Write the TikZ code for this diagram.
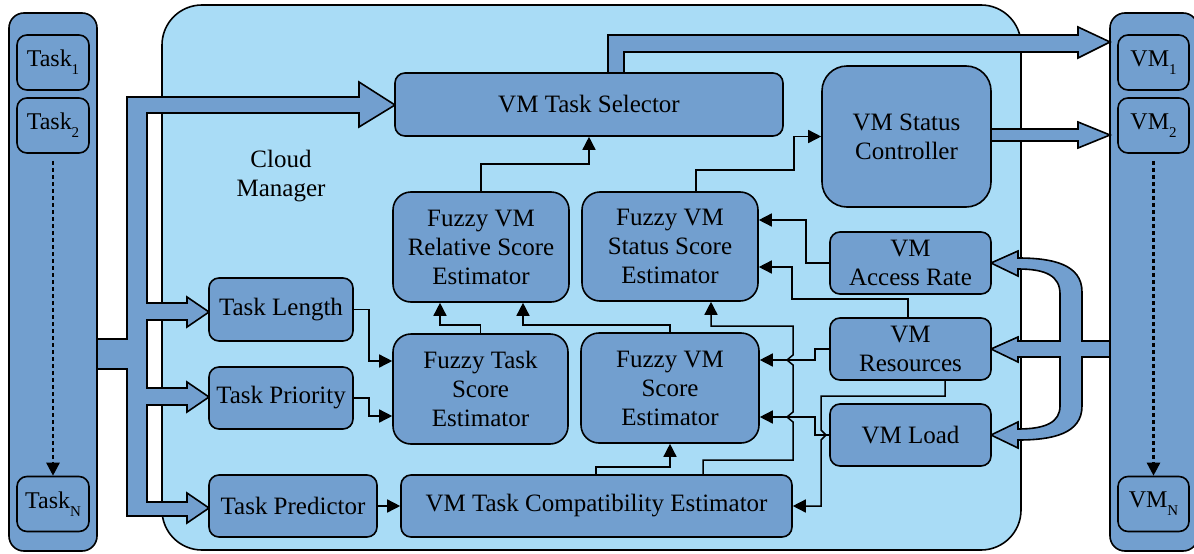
\documentclass[tikz,border=0pt]{standalone}
\usepackage{fontspec}
\setmainfont{Liberation Serif}
\usetikzlibrary{arrows.meta}
\definecolor{lightbg}{HTML}{A9DCF6}
\definecolor{boxblue}{HTML}{729FCF}
\newcommand\mysub[1]{\raisebox{-8pt}{\fontsize{15}{15}\selectfont #1}}
\tikzset{
  box/.style={draw=black, line width=1.6pt, fill=boxblue, rounded corners=10pt, inner sep=0pt, align=center, font=\fontsize{25}{29}\selectfont},
  fuzzybox/.style={box, rounded corners=18pt},
  itembox/.style={box, rounded corners=10pt, minimum width=72pt, minimum height=55pt, font=\fontsize{24}{28}\selectfont},
  barbox/.style={draw=black, line width=1.6pt, fill=boxblue, rounded corners=15pt, inner sep=0pt},
  conn/.style={draw=black, line width=1.5pt, -{Triangle[length=13pt,width=13pt]}},
  bigarrow/.style={draw=black, line width=1.6pt, fill=boxblue, line join=miter},
  dotarrow/.style={draw=black, line width=2.5pt, dash pattern=on 4pt off 3pt, -{Triangle[length=13pt,width=13pt]}},
}
\begin{document}
\begin{tikzpicture}[x=1pt,y=-1pt]
\useasboundingbox (0,0) rectangle (1194,554);
% cloud manager
\node[draw=black, line width=1.6pt, fill=lightbg, rounded corners=40pt, minimum width=859pt, minimum height=545pt, inner sep=0pt] (cloud) at (591.5,277.5) {};
\node[align=center, font=\fontsize{25}{29}\selectfont, inner sep=0pt] (cmlabel) at (281,176) {Cloud\\Manager};
% side bars
\node[barbox, minimum width=88pt, minimum height=538pt] (taskbar) at (53,282) {};
\node[barbox, minimum width=88pt, minimum height=538pt] (vmbar) at (1154,282) {};
\node[itembox] (task1) at (53,62.5) {Task\mysub{1}};
\node[itembox] (task2) at (53,125.5) {Task\mysub{2}};
\node[itembox] (taskN) at (53,504) {Task\mysub{N}};
\node[itembox, minimum width=71pt] (vm1) at (1153.5,62.5) {VM\mysub{1}};
\node[itembox, minimum width=71pt] (vm2) at (1153.5,125.5) {VM\mysub{2}};
\node[itembox, minimum width=71pt] (vmN) at (1153.5,504) {VM\mysub{N}};
\draw[dotarrow, shorten <=7pt] (task2.south) -- (taskN.north);
\draw[dotarrow, shorten <=7pt] (vm2.south) -- (vmN.north);
% big arrow from tasks
\draw[bigarrow] (97,339) -- (127,339) -- (127,97) -- (359,97) -- (359,82) -- (395,105) -- (359,127) -- (359,113)
  -- (147,113) -- (147,303) -- (187,303) -- (187,297) -- (209,312) -- (187,327) -- (187,320)
  -- (147,320) -- (147,388) -- (187,388) -- (187,382) -- (209,397) -- (187,412) -- (187,405)
  -- (147,405) -- (147,502) -- (187,502) -- (187,493) -- (209,508) -- (187,523) -- (187,516)
  -- (127,516) -- (127,369) -- (97,369) -- cycle;
% big arrows to VMs
\draw[bigarrow] (608,73) -- (608,35) -- (1078,35) -- (1078,27) -- (1110,42) -- (1078,58) -- (1078,52) -- (624,52) -- (624,73) -- cycle;
\draw[bigarrow] (991,129) -- (1078,129) -- (1078,122) -- (1110,135) -- (1078,148) -- (1078,141) -- (991,141) -- cycle;
% big arrow from VMs
\draw[bigarrow] (1110,341) -- (1082,341) -- (1082,292) .. controls (1082,264) and (1052,258) .. (1018,258)
  -- (1018,251) -- (991,263) -- (1018,276) -- (1018,269) .. controls (1046,269) and (1060,276) .. (1060,294)
  -- (1060,341) -- (1018,341) -- (1018,337) -- (991,349) -- (1018,362) -- (1018,357) -- (1060,357)
  -- (1060,406) .. controls (1060,422) and (1046,429) .. (1018,429) -- (1018,422) -- (991,435) -- (1018,448) -- (1018,440)
  .. controls (1052,440) and (1082,434) .. (1082,406) -- (1082,357) -- (1110,357) -- cycle;
% boxes
\node[box, minimum width=388pt, minimum height=63pt] (sel) at (589,104.5) {VM Task Selector};
\node[box, rounded corners=25pt, minimum width=169pt, minimum height=141pt] (ctrl) at (906.5,136.5) {VM Status\\Controller};
\node[fuzzybox, minimum width=176pt, minimum height=110pt] (rel) at (481,247) {Fuzzy VM\\Relative Score\\Estimator};
\node[fuzzybox, minimum width=176pt, minimum height=109pt] (stat) at (670,246.5) {Fuzzy VM\\Status Score\\Estimator};
\node[fuzzybox, minimum width=175pt, minimum height=110pt] (fts) at (480.5,389) {Fuzzy Task\\Score\\Estimator};
\node[fuzzybox, minimum width=178pt, minimum height=110pt] (fvs) at (670,388) {Fuzzy VM\\Score\\Estimator};
\node[box, minimum width=391pt, minimum height=62pt] (comp) at (596.5,506) {VM Task Compatibility Estimator};
\node[box, minimum width=144pt, minimum height=63pt] (tlen) at (281,309.5) {Task Length};
\node[box, minimum width=144pt, minimum height=62pt] (tpri) at (281,398) {Task Priority};
\node[box, minimum width=168pt, minimum height=62pt] (tpred) at (293,506) {Task Predictor};
\node[box, minimum width=161pt, minimum height=62pt] (acc) at (910.5,263) {VM\\Access Rate};
\node[box, minimum width=161pt, minimum height=62pt] (res) at (910.5,349) {VM\\Resources};
\node[box, minimum width=161pt, minimum height=62pt] (load) at (910.5,435) {VM Load};
% connectors
\draw[conn] (rel.north) -- (481,164) -- (589,164) -- (sel.south -| 589,0);
\draw[conn] (stat.north -| 696,0) -- (696,170) -- (794,170) -- (794,136.5) -- (ctrl.west);
\draw[conn] (tlen.east) -- (369,309.5) -- (369,361) -- (fts.west |- 0,361);
\draw[conn] (tpri.east) -- (369,398) -- (369,416) -- (fts.west |- 0,416);
\draw[conn] (fts.north) -- (480.5,325) -- (440,325) -- (rel.south -| 440,0);
\draw[conn] (fvs.north) -- (670,325) -- (523,325) -- (rel.south -| 523,0);
\draw[conn] (comp.north -| 703,0) -- (703,460) -- (793,460) -- (793,422) -- (787,417) -- (793,412) -- (793,365) -- (787,360) -- (793,355) -- (793,326) -- (711,326) -- (stat.south -| 711,0);
\draw[conn] (res.west) -- (815,349) -- (815,360) -- (fvs.east |- 0,360);
\draw[conn] (load.west) -- (815,435) -- (815,417) -- (fvs.east |- 0,417);
\draw[conn] (res.south -| 945,0) -- (945,396) -- (821,396) -- (821,430) -- (826,435) -- (821,440) -- (821,506) -- (comp.east);
\draw[conn] (acc.west) -- (806,263) -- (806,220) -- (stat.east |- 0,220);
\draw[conn] (res.north -| 908,0) -- (908,299) -- (792,299) -- (792,267) -- (stat.east |- 0,267);
\draw[conn] (tpred.east) -- (comp.west);
\draw[conn] (comp.north -| 596,0) -- (596,467) -- (670,467) -- (fvs.south);
\end{tikzpicture}
\end{document}
